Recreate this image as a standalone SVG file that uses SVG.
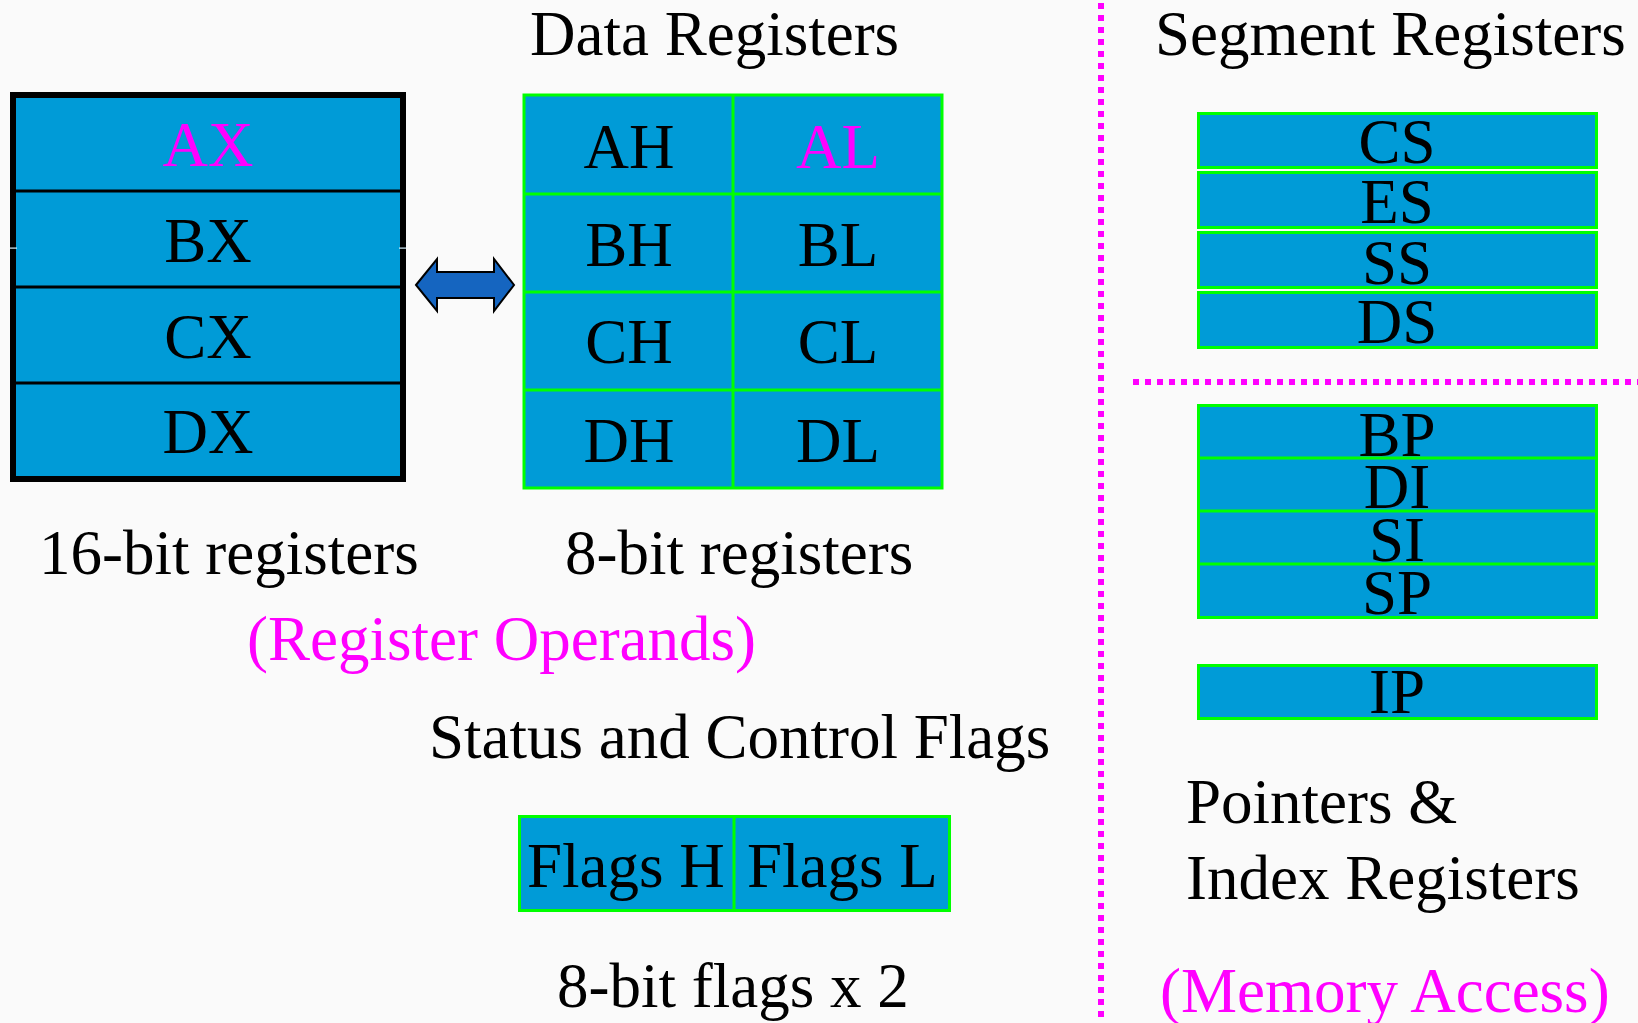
<svg xmlns="http://www.w3.org/2000/svg" width="1638" height="1023" viewBox="0 0 1638 1023">
  <style>
    text { font-family: "Liberation Serif", "Times New Roman", serif; font-size: 63px; fill: #000; }
    .mid { text-anchor: middle; }
    .hot { fill: #ff00ff; }
    .cell { fill: #009bd7; stroke: #00ff00; stroke-width: 3; }
    .gline { stroke: #00ff00; stroke-width: 3; fill: none; }
    .bline { stroke: #000; stroke-width: 3; fill: none; }
    .sep { stroke: #ff00ff; stroke-width: 6; stroke-dasharray: 6 6; fill: none; }
  </style>

  <!-- background -->
  <rect x="0" y="0" width="1638" height="1023" fill="#fafafa"/>

  <!-- dotted separators -->
  <g id="separators">
    <line class="sep" x1="1101" y1="3" x2="1101" y2="1018"/>
    <line class="sep" x1="1133" y1="382" x2="1638" y2="382"/>
  </g>

  <!-- headings and captions -->
  <g id="labels">
    <text x="530" y="55">Data Registers</text>
    <text x="1155" y="55">Segment Registers</text>
    <text x="39" y="574">16-bit registers</text>
    <text x="565" y="574">8-bit registers</text>
    <text x="247" y="660" class="hot">(Register Operands)</text>
    <text x="429" y="758">Status and Control Flags</text>
    <text x="557" y="1007">8-bit flags x 2</text>
    <text x="1186" y="823">Pointers &amp;</text>
    <text x="1186" y="899">Index Registers</text>
    <text x="1160" y="1012" class="hot">(Memory Access)</text>
  </g>

  <!-- 16-bit general registers -->
  <g id="reg16">
    <rect x="13" y="95" width="390" height="384" fill="#009bd7" stroke="#000" stroke-width="6"/>
    <line class="bline" x1="16" y1="191" x2="400" y2="191"/>
    <line class="bline" x1="16" y1="287" x2="400" y2="287"/>
    <line class="bline" x1="16" y1="383" x2="400" y2="383"/>
    <rect x="10" y="247.5" width="7" height="1.2" fill="#d8f2ff"/>
    <rect x="399" y="247.5" width="7" height="1.2" fill="#d8f2ff"/>
    <text x="208" y="166" class="mid hot">AX</text>
    <text x="208" y="262" class="mid">BX</text>
    <text x="208" y="358" class="mid">CX</text>
    <text x="208" y="453" class="mid">DX</text>
  </g>

  <!-- 8-bit halves -->
  <g id="reg8">
    <rect class="cell" x="524" y="95" width="418" height="393"/>
    <line class="gline" x1="733" y1="95" x2="733" y2="488"/>
    <line class="gline" x1="524" y1="194" x2="942" y2="194"/>
    <line class="gline" x1="524" y1="292" x2="942" y2="292"/>
    <line class="gline" x1="524" y1="390" x2="942" y2="390"/>
    <text x="629" y="168" class="mid">AH</text>
    <text x="838" y="168" class="mid hot">AL</text>
    <text x="629" y="266" class="mid">BH</text>
    <text x="838" y="266" class="mid">BL</text>
    <text x="629" y="363" class="mid">CH</text>
    <text x="838" y="363" class="mid">CL</text>
    <text x="629" y="462" class="mid">DH</text>
    <text x="838" y="462" class="mid">DL</text>
  </g>

  <!-- double-headed arrow between the two views -->
  <g id="connectors">
    <polygon points="416,285 437,259 437,272 494,272 494,259 514,285 494,311 494,298 437,298 437,311"
             fill="#1565c0" stroke="#000" stroke-width="2" stroke-linejoin="miter"/>
  </g>

  <!-- segment registers -->
  <g id="segment-regs">
    <rect class="cell" x="1198.5" y="113.5" width="398" height="54"/>
    <rect class="cell" x="1198.5" y="172.5" width="398" height="55"/>
    <rect class="cell" x="1198.5" y="232.5" width="398" height="55"/>
    <rect class="cell" x="1198.5" y="292.5" width="398" height="55"/>
    <text x="1397" y="163" class="mid">CS</text>
    <text x="1397" y="223" class="mid">ES</text>
    <text x="1397" y="284" class="mid">SS</text>
    <text x="1397" y="343" class="mid">DS</text>
  </g>

  <!-- pointer and index registers -->
  <g id="pointer-regs">
    <rect class="cell" x="1198.5" y="405.5" width="398" height="212"/>
    <line class="gline" x1="1198" y1="458" x2="1597" y2="458"/>
    <line class="gline" x1="1198" y1="511" x2="1597" y2="511"/>
    <line class="gline" x1="1198" y1="564" x2="1597" y2="564"/>
    <text x="1397" y="456" class="mid">BP</text>
    <text x="1397" y="508" class="mid">DI</text>
    <text x="1397" y="561" class="mid">SI</text>
    <text x="1397" y="614" class="mid">SP</text>
  </g>

  <!-- instruction pointer -->
  <g id="ip-reg">
    <rect class="cell" x="1198.5" y="665.5" width="398" height="53"/>
    <text x="1397" y="713" class="mid">IP</text>
  </g>

  <!-- flags register -->
  <g id="flags-reg">
    <rect class="cell" x="519.5" y="816.5" width="430" height="94"/>
    <line class="gline" x1="734" y1="816" x2="734" y2="911"/>
    <text x="527" y="887">Flags H</text>
    <text x="747" y="887">Flags L</text>
  </g>
</svg>
